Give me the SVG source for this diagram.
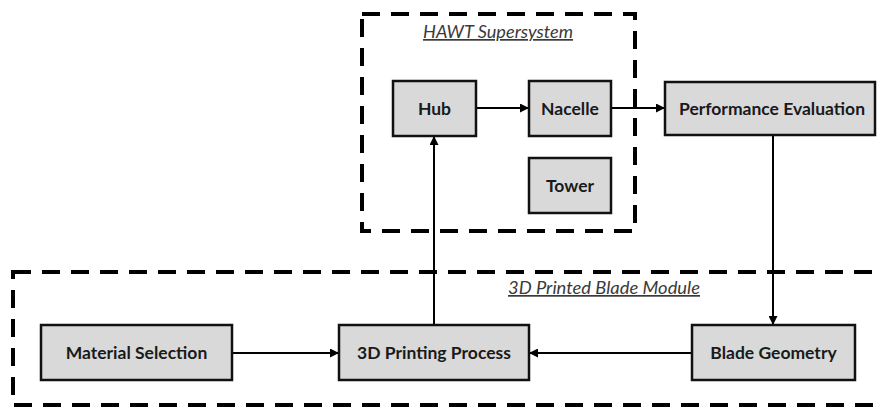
<svg xmlns="http://www.w3.org/2000/svg" width="877" height="410" viewBox="0 0 877 410">
<style>
.bg{fill:#ffffff}
.sys{fill:none;stroke:#000;stroke-width:4;stroke-dasharray:18 11}
.node{fill:#d9d9d9;stroke:#111;stroke-width:2.5}
.lbl{font-family:Lato,"Liberation Sans",sans-serif;font-weight:bold;font-size:17.5px;fill:#1a1a1a;text-anchor:middle}
.cap{font-family:Lato,"Liberation Sans",sans-serif;font-style:italic;font-size:17px;fill:#3a3a3a;text-anchor:middle;text-decoration:underline}
.conn{fill:none;stroke:#000;stroke-width:2}
</style>
<defs>
<marker id="ah" viewBox="0 0 10 10" refX="10" refY="5" markerWidth="4.5" markerHeight="4.5" orient="auto" markerUnits="strokeWidth">
<path d="M0,0 L10,5 L0,10 z" fill="#000"/>
</marker>
</defs>
<rect class="bg" x="0" y="0" width="877" height="410"/>
<g id="hawt-supersystem">
<rect class="sys" x="362" y="14" width="273" height="217"/>
<text class="cap" x="498" y="38" textLength="150" lengthAdjust="spacingAndGlyphs">HAWT Supersystem</text>
</g>
<g id="blade-module">
<rect class="sys" x="13" y="272" width="900" height="133"/>
<text class="cap" x="604" y="294" textLength="192" lengthAdjust="spacingAndGlyphs">3D Printed Blade Module</text>
</g>
<g id="connectors">
<line class="conn" x1="476" y1="108" x2="529" y2="108" marker-end="url(#ah)"/>
<line class="conn" x1="611" y1="108" x2="665" y2="108" marker-end="url(#ah)"/>
<line class="conn" x1="773" y1="135" x2="773" y2="325" marker-end="url(#ah)"/>
<line class="conn" x1="692" y1="353" x2="529" y2="353" marker-end="url(#ah)"/>
<line class="conn" x1="232" y1="353" x2="339" y2="353" marker-end="url(#ah)"/>
<line class="conn" x1="434" y1="325" x2="434" y2="136" marker-end="url(#ah)"/>
</g>
<g id="hub">
<rect class="node" x="393" y="81" width="83" height="55"/>
<text class="lbl" x="434.5" y="114.5">Hub</text>
</g>
<g id="nacelle">
<rect class="node" x="529" y="81" width="82" height="55"/>
<text class="lbl" x="570" y="114.5">Nacelle</text>
</g>
<g id="tower">
<rect class="node" x="529" y="158" width="82" height="55"/>
<text class="lbl" x="570" y="191.5">Tower</text>
</g>
<g id="performance-evaluation">
<rect class="node" x="665" y="82" width="210" height="53"/>
<text class="lbl" x="772" y="114.5">Performance Evaluation</text>
</g>
<g id="material-selection">
<rect class="node" x="41" y="325" width="191" height="55"/>
<text class="lbl" x="136.5" y="358.5">Material Selection</text>
</g>
<g id="printing-process">
<rect class="node" x="339" y="325" width="190" height="55"/>
<text class="lbl" x="434" y="358.5">3D Printing Process</text>
</g>
<g id="blade-geometry">
<rect class="node" x="692" y="325" width="163" height="55"/>
<text class="lbl" x="773.5" y="358.5">Blade Geometry</text>
</g>
</svg>
